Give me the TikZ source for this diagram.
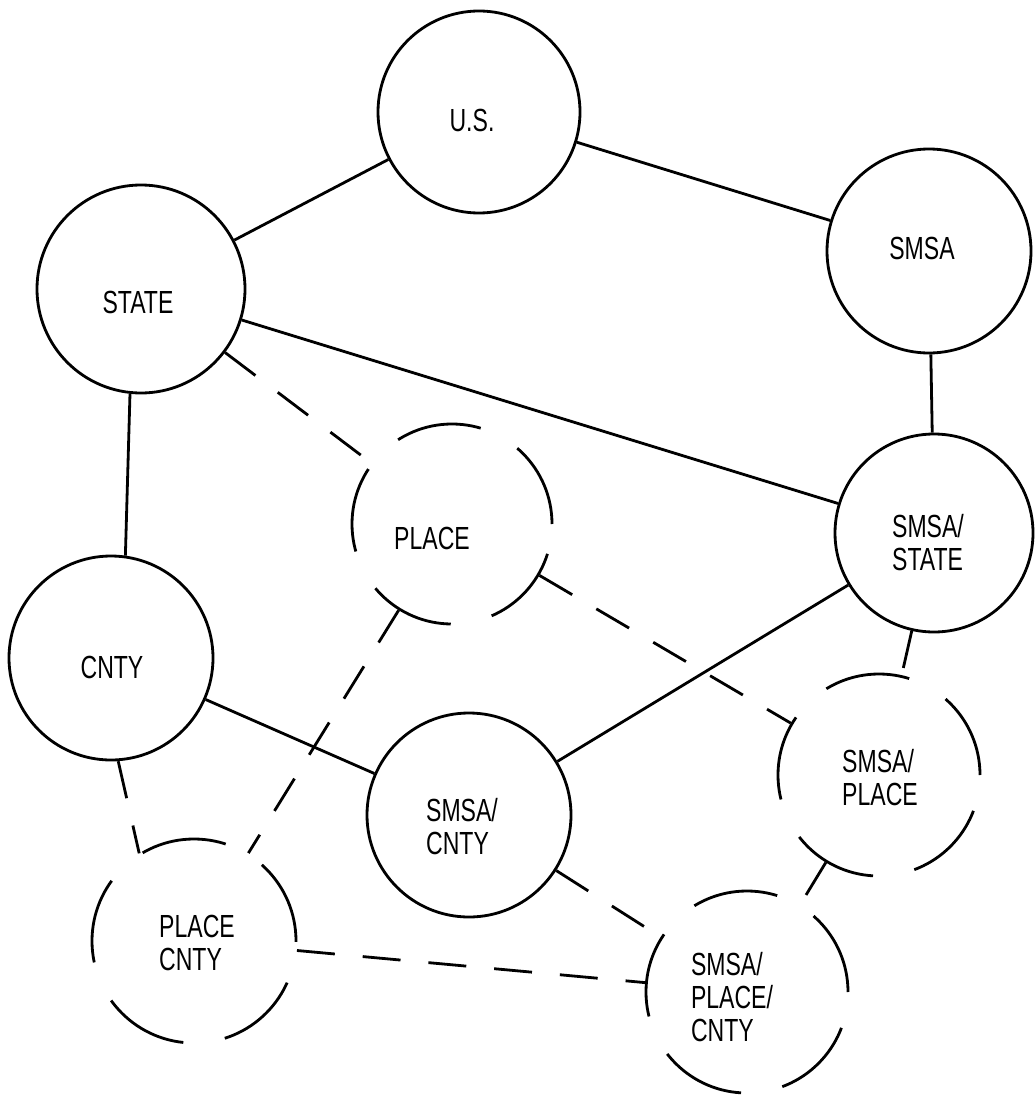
\documentclass[tikz,border=0pt]{standalone}
\usepackage{fontspec}
\newfontfamily\lettering[FakeStretch=0.72]{Liberation Sans}

\begin{document}
\begin{tikzpicture}[x=0.5pt,y=-0.5pt,
    ring/.style={draw,circle,line width=1.4pt,inner sep=0pt},
    open/.style={ring,dash pattern=on 43pt off 21pt},
    tag/.style={font=\fontsize{16}{16.5}\selectfont\lettering,align=left,inner sep=0pt},
    link/.style={line width=1.4pt},
    loose/.style={link,dash pattern=on 19pt off 14pt}]
      \useasboundingbox (0,0) rectangle (1034,1097);
      % solid circles
      \node[ring,minimum size=101pt] (us) at (479,112) {};
      \node[ring,minimum size=104pt] (state) at (141,289) {};
      \node[ring,minimum size=102pt] (smsa) at (929,251) {};
      \node[ring,minimum size=99pt] (smsastate) at (934,533) {};
      \node[ring,minimum size=102pt] (cnty) at (111,658) {};
      \node[ring,minimum size=102pt] (smsacnty) at (469,815) {};
      % dashed circles
      \node[open,minimum size=100pt] (place) at (452,524) {};
      \node[open,minimum size=101pt] (smsaplace) at (879,775) {};
      \node[open,minimum size=102pt] (placecnty) at (194,941) {};
      \node[open,minimum size=101pt] (spc) at (747,992) {};
      % texts
      \node[tag] (us-t) at (472,120) {U.S.};
      \node[tag] (state-t) at (138,302) {STATE};
      \node[tag] (smsa-t) at (922,248) {SMSA};
      \node[tag] (place-t) at (432,538) {PLACE};
      \node[tag] (smsastate-t) at (928,543) {SMSA/\\STATE};
      \node[tag] (cnty-t) at (112,667) {CNTY};
      \node[tag] (smsacnty-t) at (462,827) {SMSA/\\CNTY};
      \node[tag] (smsaplace-t) at (880,778) {SMSA/\\PLACE};
      \node[tag] (placecnty-t) at (197,943) {PLACE\\CNTY};
      \node[tag] (spc-t) at (732,997) {SMSA/\\PLACE/\\CNTY};
      % solid links
      \draw[link] (us) -- (state);
      \draw[link] (us) -- (smsa);
      \draw[link] (state) -- (smsastate);
      \draw[link] (state.-96) -- (cnty.82);
      \draw[link] (smsa) -- (smsastate);
      \draw[link] (smsastate) -- (smsacnty);
      \draw[link] (cnty) -- (smsacnty);
      % dashed links
      \draw[loose] (state) -- (place);
      \draw[loose] (place) -- (placecnty);
      \draw[loose] (place) -- (smsaplace);
      \draw[loose] (smsastate) -- (smsaplace);
      \draw[loose] (cnty.-86) -- (placecnty.122);
      \draw[loose] (smsacnty) -- (spc);
      \draw[loose] (smsaplace) -- (spc);
      \draw[loose] (placecnty) -- (spc);
    \end{tikzpicture}
\end{document}
